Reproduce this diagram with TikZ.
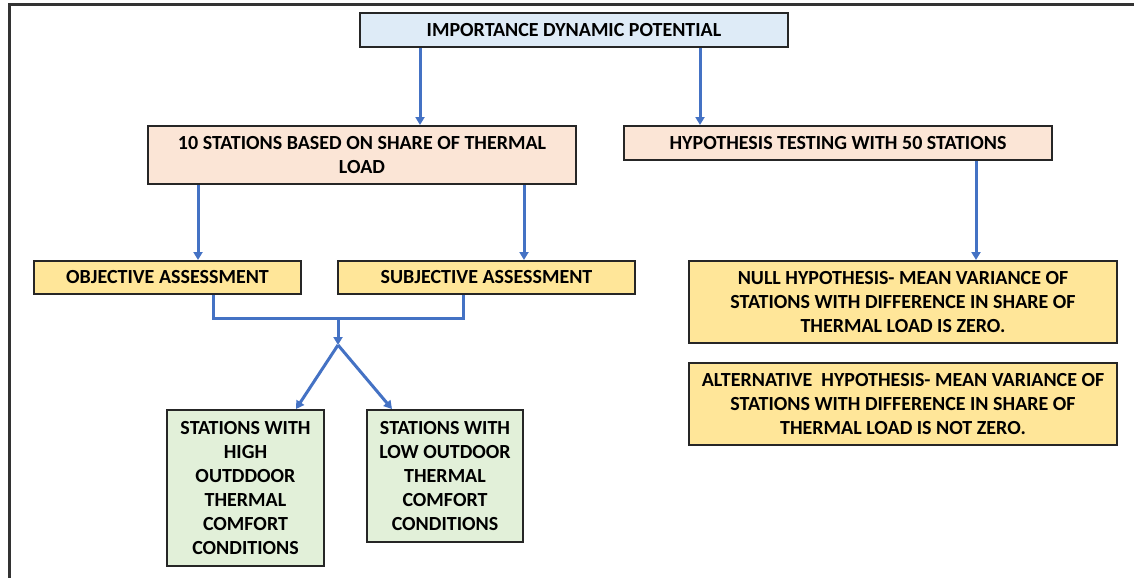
\documentclass[tikz,border=0pt]{standalone}
\usepackage{fontspec}
\setmainfont{Carlito}
\usetikzlibrary{arrows.meta}

\definecolor{headblue}{HTML}{DEEBF7}
\definecolor{peach}{HTML}{FBE5D6}
\definecolor{gold}{HTML}{FFE699}
\definecolor{sage}{HTML}{E2F0D9}
\definecolor{flow}{HTML}{4472C4}

\tikzset{
  box/.style={draw=black!85, line width=2pt, rectangle, inner sep=0pt,
    align=center, font=\fontsize{20}{24}\selectfont\bfseries, text=black},
  headbox/.style={box, fill=headblue},
  peachbox/.style={box, fill=peach},
  goldbox/.style={box, fill=gold},
  sagebox/.style={box, fill=sage},
  flowline/.style={draw=flow, line width=3pt},
  flowarrow/.style={flowline, -{Triangle[length=8pt,width=9pt]}},
}

\begin{document}
\begin{tikzpicture}[x=1pt,y=1pt]
  \useasboundingbox (0,0) rectangle (1134,-578);

  % outer frame (only the top and left edges fall inside the page)
  \draw[black!80, line width=2.4pt] (1134,-4.5) -- (9.5,-4.5) -- (9.5,-578);

  % boxes
  \node[headbox, minimum width=428, minimum height=34] (top) at (574,-30)
    {IMPORTANCE DYNAMIC POTENTIAL};
  \node[peachbox, minimum width=428, minimum height=58] (share) at (362,-155)
    {10 STATIONS BASED ON SHARE OF THERMAL\\LOAD};
  \node[peachbox, minimum width=428, minimum height=34] (hyp) at (838,-143)
    {HYPOTHESIS TESTING WITH 50 STATIONS};
  \node[goldbox, minimum width=267, minimum height=33] (obj) at (167.5,-277.5)
    {OBJECTIVE ASSESSMENT};
  \node[goldbox, minimum width=297, minimum height=33] (subj) at (486.5,-277.5)
    {SUBJECTIVE ASSESSMENT};
  \node[sagebox, minimum width=157, minimum height=156] (high) at (245.5,-488)
    {STATIONS WITH\\HIGH\\OUTDDOOR\\THERMAL\\COMFORT\\CONDITIONS};
  \node[sagebox, minimum width=156, minimum height=132] (low) at (445,-476)
    {STATIONS WITH\\LOW OUTDOOR\\THERMAL\\COMFORT\\CONDITIONS};
  \node[goldbox, minimum width=428, minimum height=82] (null) at (903,-302)
    {NULL HYPOTHESIS- MEAN VARIANCE OF\\STATIONS WITH DIFFERENCE IN SHARE OF\\THERMAL LOAD IS ZERO.};
  \node[goldbox, minimum width=428, minimum height=82] (alt) at (903,-404)
    {ALTERNATIVE\ \ HYPOTHESIS- MEAN VARIANCE OF\\STATIONS WITH DIFFERENCE IN SHARE OF\\THERMAL LOAD IS NOT ZERO.};

  % connectors
  \draw[flowarrow] (top.south -| 420,0) -- (share.north -| 420,0);
  \draw[flowarrow] (top.south -| 700,0) -- (hyp.north -| 700,0);
  \draw[flowarrow] (share.south -| 198,0) -- (obj.north -| 198,0);
  \draw[flowarrow] (share.south -| 524,0) -- (subj.north -| 524,0);
  \draw[flowarrow] (hyp.south -| 976,0) -- (null.north -| 976,0);

  \coordinate (join) at (338,-318);
  \coordinate (split) at (338,-345);
  \draw[flowline] (obj.south -| 213,0) |- (join) -| (subj.south -| 463,0);
  \draw[flowarrow] (join) -- (split);
  \draw[flowarrow] (split) -- (high.north -| 296,0);
  \draw[flowarrow] (split) -- (low.north -| 392,0);
\end{tikzpicture}
\end{document}
